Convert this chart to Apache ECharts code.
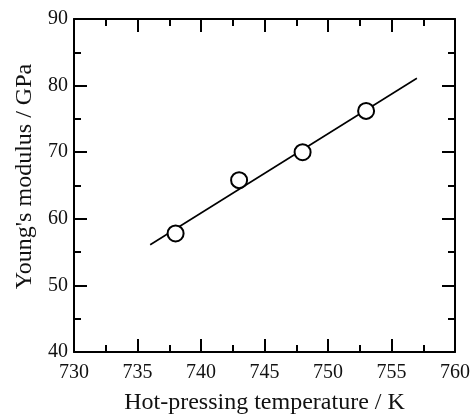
<!DOCTYPE html>
<html>
<head>
<meta charset="utf-8">
<script src="https://cdn.jsdelivr.net/npm/echarts@6/dist/echarts.min.js"></script>
<style>html,body{margin:0;padding:0;background:#fff;}#c{width:473px;height:420px;}</style>
</head>
<body>
<div id="c"></div>
<script>
var temperatureK = [738, 743, 748, 753];
var youngsModulusGPa = [57.8, 65.8, 70.0, 76.2];
var fitTemperatureK = [736, 757];
var fitModulusGPa = [56.1, 81.1];
var xTickLabels = ['730', '735', '740', '745', '750', '755', '760'];
var yTickLabels = ['40', '50', '60', '70', '80', '90'];
var xTitle = 'Hot-pressing temperature / K';
var yTitle = "Young's modulus / GPa";

var FONT = '"Liberation Serif", "Times New Roman", serif';
var chart = echarts.init(document.getElementById('c'), null, {renderer: 'canvas'});

function axisCommon(show) {
  return {
    axisLine: {show: true, onZero: false, lineStyle: {color: '#000', width: 2}},
    axisTick: {show: true, inside: true, length: 13, lineStyle: {color: '#000', width: 2}},
    minorTick: {show: true, splitNumber: 2, length: 7, lineStyle: {color: '#000', width: 2}},
    splitLine: {show: false},
    minorSplitLine: {show: false},
    axisLabel: {show: show, color: '#111', fontFamily: FONT, fontSize: 20}
  };
}

var xb = Object.assign(axisCommon(true), {
  type: 'value', position: 'bottom', min: 730, max: 760, interval: 5,
  name: xTitle, nameLocation: 'middle', nameGap: 39,
  nameTextStyle: {color: '#111', fontFamily: FONT, fontSize: 24}
});
xb.axisLabel.margin = 11;
xb.axisLabel.formatter = function (v) { return xTickLabels[Math.round((v - 730) / 5)]; };
var xt = Object.assign(axisCommon(false), {type: 'value', position: 'top', min: 730, max: 760, interval: 5});

var yl = Object.assign(axisCommon(true), {
  type: 'value', position: 'left', min: 40, max: 90, interval: 10,
  name: yTitle, nameLocation: 'middle', nameGap: 36,
  nameTextStyle: {color: '#111', fontFamily: FONT, fontSize: 24, padding: [0, 0, 0, 18]}
});
yl.axisLabel.margin = 6;
yl.axisLabel.formatter = function (v) { return yTickLabels[Math.round((v - 40) / 10)]; };
var yr = Object.assign(axisCommon(false), {type: 'value', position: 'right', min: 40, max: 90, interval: 10});

chart.setOption({
  animation: false,
  backgroundColor: '#fff',
  grid: {left: 74, right: 16, top: 19, bottom: 67, containLabel: false},
  xAxis: [xb, xt],
  yAxis: [yl, yr],
  series: [
    {
      type: 'line', xAxisIndex: 0, yAxisIndex: 0,
      data: fitTemperatureK.map(function (x, i) { return [x, fitModulusGPa[i]]; }),
      showSymbol: false, symbol: 'none',
      lineStyle: {color: '#000', width: 1.6}, z: 2
    },
    {
      type: 'scatter', xAxisIndex: 0, yAxisIndex: 0,
      data: temperatureK.map(function (x, i) { return [x, youngsModulusGPa[i]]; }),
      symbol: 'circle', symbolSize: 16,
      itemStyle: {color: '#fff', borderColor: '#000', borderWidth: 2, opacity: 1}, z: 3
    }
  ]
});
</script>
</body>
</html>
